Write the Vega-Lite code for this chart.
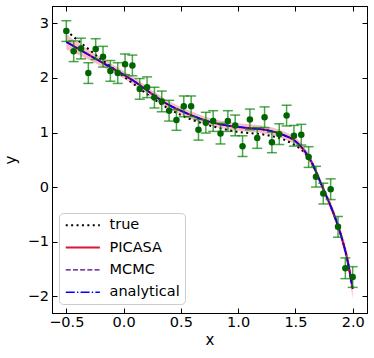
{
  "$schema": "https://vega.github.io/schema/vega-lite/v6.json",
  "width": 315,
  "height": 307,
  "autosize": {"type": "none"},
  "padding": {"left": 52, "top": 6, "right": 7, "bottom": 45},
  "background": "white",
  "config": {
    "font": "DejaVu Sans",
    "view": {"stroke": "black", "strokeWidth": 1},
    "axis": {
      "domainColor": "black", "domainWidth": 1, "tickColor": "black", "tickSize": -5, "tickWidth": 1,
      "grid": false, "labelFont": "DejaVu Sans", "labelFontSize": 14.5, "labelColor": "black",
      "titleFont": "DejaVu Sans", "titleFontSize": 15, "titleFontWeight": "normal", "titleColor": "black",
      "labelFlush": false, "labelOverlap": false
    }
  },
  "datasets": {
    "curves": [
      {"x": -0.5, "true": 2.87, "PICASA": 2.66, "MCMC": 2.66, "analytical": 2.66, "lo": 2.52, "hi": 2.8},
      {"x": -0.4, "true": 2.69, "PICASA": 2.54, "MCMC": 2.54, "analytical": 2.54, "lo": 2.43, "hi": 2.65},
      {"x": -0.3, "true": 2.52, "PICASA": 2.42, "MCMC": 2.42, "analytical": 2.42, "lo": 2.33, "hi": 2.51},
      {"x": -0.2, "true": 2.35, "PICASA": 2.3, "MCMC": 2.3, "analytical": 2.3, "lo": 2.22, "hi": 2.38},
      {"x": -0.1, "true": 2.19, "PICASA": 2.18, "MCMC": 2.18, "analytical": 2.18, "lo": 2.11, "hi": 2.25},
      {"x": 0.0, "true": 2.03, "PICASA": 2.06, "MCMC": 2.06, "analytical": 2.06, "lo": 1.99, "hi": 2.13},
      {"x": 0.1, "true": 1.87, "PICASA": 1.93, "MCMC": 1.93, "analytical": 1.93, "lo": 1.86, "hi": 2.0},
      {"x": 0.2, "true": 1.71, "PICASA": 1.78, "MCMC": 1.78, "analytical": 1.78, "lo": 1.71, "hi": 1.85},
      {"x": 0.3, "true": 1.56, "PICASA": 1.63, "MCMC": 1.63, "analytical": 1.63, "lo": 1.56, "hi": 1.7},
      {"x": 0.4, "true": 1.43, "PICASA": 1.5, "MCMC": 1.5, "analytical": 1.5, "lo": 1.43, "hi": 1.57},
      {"x": 0.5, "true": 1.32, "PICASA": 1.4, "MCMC": 1.4, "analytical": 1.4, "lo": 1.33, "hi": 1.47},
      {"x": 0.6, "true": 1.23, "PICASA": 1.31, "MCMC": 1.31, "analytical": 1.31, "lo": 1.24, "hi": 1.38},
      {"x": 0.7, "true": 1.16, "PICASA": 1.23, "MCMC": 1.23, "analytical": 1.23, "lo": 1.16, "hi": 1.3},
      {"x": 0.8, "true": 1.1, "PICASA": 1.17, "MCMC": 1.17, "analytical": 1.17, "lo": 1.1, "hi": 1.24},
      {"x": 0.9, "true": 1.05, "PICASA": 1.13, "MCMC": 1.13, "analytical": 1.13, "lo": 1.06, "hi": 1.2},
      {"x": 1.0, "true": 1.01, "PICASA": 1.1, "MCMC": 1.1, "analytical": 1.1, "lo": 1.03, "hi": 1.17},
      {"x": 1.1, "true": 0.99, "PICASA": 1.08, "MCMC": 1.08, "analytical": 1.08, "lo": 1.01, "hi": 1.15},
      {"x": 1.2, "true": 0.97, "PICASA": 1.06, "MCMC": 1.06, "analytical": 1.06, "lo": 0.99, "hi": 1.13},
      {"x": 1.3, "true": 0.93, "PICASA": 1.02, "MCMC": 1.02, "analytical": 1.02, "lo": 0.95, "hi": 1.09},
      {"x": 1.4, "true": 0.87, "PICASA": 0.95, "MCMC": 0.95, "analytical": 0.95, "lo": 0.88, "hi": 1.02},
      {"x": 1.5, "true": 0.76, "PICASA": 0.84, "MCMC": 0.84, "analytical": 0.84, "lo": 0.77, "hi": 0.91},
      {"x": 1.55, "true": 0.69, "PICASA": 0.74, "MCMC": 0.74, "analytical": 0.74, "lo": 0.67, "hi": 0.81},
      {"x": 1.6, "true": 0.58, "PICASA": 0.6, "MCMC": 0.6, "analytical": 0.6, "lo": 0.53, "hi": 0.67},
      {"x": 1.65, "true": 0.42, "PICASA": 0.42, "MCMC": 0.42, "analytical": 0.42, "lo": 0.35, "hi": 0.49},
      {"x": 1.7, "true": 0.18, "PICASA": 0.18, "MCMC": 0.18, "analytical": 0.18, "lo": 0.11, "hi": 0.25},
      {"x": 1.75, "true": -0.07, "PICASA": -0.07, "MCMC": -0.07, "analytical": -0.07, "lo": -0.14, "hi": 0.0},
      {"x": 1.8, "true": -0.31, "PICASA": -0.31, "MCMC": -0.31, "analytical": -0.31, "lo": -0.39, "hi": -0.23},
      {"x": 1.85, "true": -0.58, "PICASA": -0.58, "MCMC": -0.58, "analytical": -0.58, "lo": -0.66, "hi": -0.5},
      {"x": 1.9, "true": -0.9, "PICASA": -0.9, "MCMC": -0.9, "analytical": -0.9, "lo": -1.0, "hi": -0.8},
      {"x": 1.95, "true": -1.3, "PICASA": -1.3, "MCMC": -1.3, "analytical": -1.3, "lo": -1.43, "hi": -1.17},
      {"x": 2.0, "true": -1.87, "PICASA": -1.87, "MCMC": -1.87, "analytical": -1.87, "lo": -2.05, "hi": -1.71}
    ],
    "pts": [
      {"x": -0.5, "y": 2.86, "e": 0.19},
      {"x": -0.4359, "y": 2.49, "e": 0.19},
      {"x": -0.3718, "y": 2.54, "e": 0.19},
      {"x": -0.3077, "y": 2.09, "e": 0.19},
      {"x": -0.2436, "y": 2.53, "e": 0.19},
      {"x": -0.1795, "y": 2.39, "e": 0.19},
      {"x": -0.1154, "y": 2.13, "e": 0.19},
      {"x": -0.0513, "y": 2.09, "e": 0.19},
      {"x": 0.0128, "y": 2.25, "e": 0.19},
      {"x": 0.0769, "y": 2.23, "e": 0.19},
      {"x": 0.141, "y": 1.8, "e": 0.19},
      {"x": 0.2051, "y": 1.83, "e": 0.19},
      {"x": 0.2692, "y": 1.64, "e": 0.19},
      {"x": 0.3333, "y": 1.57, "e": 0.19},
      {"x": 0.3974, "y": 1.4, "e": 0.19},
      {"x": 0.4615, "y": 1.23, "e": 0.19},
      {"x": 0.5256, "y": 1.48, "e": 0.19},
      {"x": 0.5897, "y": 1.48, "e": 0.19},
      {"x": 0.6538, "y": 1.05, "e": 0.19},
      {"x": 0.7179, "y": 1.18, "e": 0.19},
      {"x": 0.7821, "y": 1.21, "e": 0.19},
      {"x": 0.8462, "y": 0.98, "e": 0.19},
      {"x": 0.9103, "y": 1.21, "e": 0.19},
      {"x": 0.9744, "y": 1.13, "e": 0.19},
      {"x": 1.0385, "y": 0.75, "e": 0.19},
      {"x": 1.1026, "y": 1.24, "e": 0.19},
      {"x": 1.1667, "y": 0.9, "e": 0.19},
      {"x": 1.2308, "y": 1.28, "e": 0.19},
      {"x": 1.2949, "y": 0.82, "e": 0.19},
      {"x": 1.359, "y": 0.97, "e": 0.19},
      {"x": 1.4231, "y": 1.31, "e": 0.19},
      {"x": 1.4872, "y": 0.94, "e": 0.19},
      {"x": 1.5513, "y": 0.96, "e": 0.19},
      {"x": 1.6154, "y": 0.55, "e": 0.19},
      {"x": 1.6795, "y": 0.19, "e": 0.19},
      {"x": 1.7436, "y": -0.12, "e": 0.19},
      {"x": 1.8077, "y": -0.04, "e": 0.19},
      {"x": 1.8718, "y": -0.73, "e": 0.19},
      {"x": 1.9359, "y": -1.49, "e": 0.19},
      {"x": 2.0, "y": -1.65, "e": 0.19}
    ]
  },
  "layer": [
    {
      "data": {"name": "curves"},
      "mark": {"type": "area", "color": "#DC143C", "opacity": 0.28, "interpolate": "monotone"},
      "encoding": {
        "x": {"field": "x", "type": "quantitative",
              "scale": {"domain": [-0.625, 2.125], "nice": false, "zero": false},
              "axis": {"orient": "bottom", "values": [-0.5, 0, 0.5, 1, 1.5, 2], "format": ".1f", "title": "x", "labelPadding": 7, "titlePadding": 4}},
        "y": {"field": "lo", "type": "quantitative",
              "scale": {"domain": [-2.31, 3.32], "nice": false, "zero": false},
              "axis": {"orient": "left", "values": [-2, -1, 0, 1, 2, 3], "format": "d", "title": "y", "labelPadding": 8.5, "titlePadding": 9}},
        "y2": {"field": "hi"}
      }
    },
    {
      "data": {"name": "curves"},
      "transform": [{"fold": ["true", "PICASA", "MCMC", "analytical"], "as": ["series", "val"]}],
      "mark": {"type": "line", "interpolate": "monotone"},
      "encoding": {
        "x": {"field": "x", "type": "quantitative",
              "axis": {"orient": "top", "values": [-0.5, 0, 0.5, 1, 1.5, 2], "labels": false, "title": null}},
        "y": {"field": "val", "type": "quantitative",
              "axis": {"orient": "right", "values": [-2, -1, 0, 1, 2, 3], "labels": false, "title": null}},
        "color": {"field": "series", "type": "nominal",
                  "scale": {"domain": ["true", "PICASA", "MCMC", "analytical"], "range": ["black", "#DC143C", "#4B0082", "blue"]},
                  "legend": {"title": null, "orient": "none", "legendX": 7, "legendY": 207, "symbolType": "M-1,0H5.2", "symbolSize": 121,
                             "symbolFillColor": "transparent",
                             "labelFontSize": 14.5, "labelFont": "DejaVu Sans", "labelColor": "black", "labelOffset": 31, "padding": 5,
                             "strokeColor": "#cccccc", "fillColor": "white", "cornerRadius": 4, "rowPadding": 7.3}},
        "strokeDash": {"field": "series", "type": "nominal",
                       "scale": {"domain": ["true", "PICASA", "MCMC", "analytical"], "range": [[2, 3.4], [1, 0], [5, 2.2], [9, 2.2, 1.4, 2.2]]}},
        "strokeWidth": {"field": "series", "type": "nominal",
                        "scale": {"type": "ordinal", "domain": ["true", "PICASA", "MCMC", "analytical"], "range": [2, 2, 1.4, 1.5]}}
      }
    },
    {
      "data": {"name": "pts"},
      "mark": {"type": "errorbar", "ticks": {"size": 10}, "color": "green", "opacity": 0.7, "thickness": 1.5},
      "encoding": {
        "x": {"field": "x", "type": "quantitative", "axis": null},
        "y": {"field": "y", "type": "quantitative", "axis": null},
        "yError": {"field": "e"}
      }
    },
    {
      "data": {"name": "pts"},
      "mark": {"type": "circle", "color": "#006400", "opacity": 1, "size": 42},
      "encoding": {
        "x": {"field": "x", "type": "quantitative", "axis": null},
        "y": {"field": "y", "type": "quantitative", "axis": null}
      }
    }
  ],
  "resolve": {"axis": {"x": "independent", "y": "independent"}}
}
